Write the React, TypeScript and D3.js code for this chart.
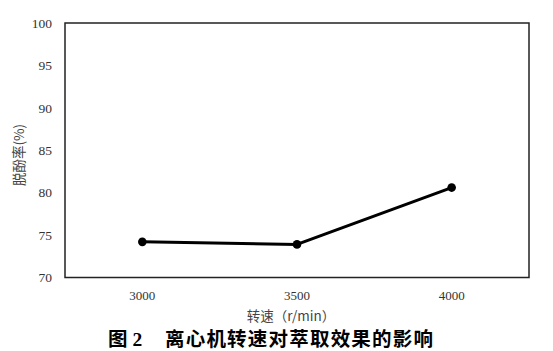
import React from "react";
import * as d3 from "d3";

// Centrifuge speed (r/min) vs. dephenolization rate (%)
const speeds = ["3000", "3500", "4000"];
const rates = [74.2, 73.9, 80.6];
const yTicks = [70, 75, 80, 85, 90, 95, 100];

const W = 553;
const H = 351;
const plot = { left: 65, top: 23, right: 529, bottom: 277.5 };

const serif = "'Liberation Serif', 'Times New Roman', serif";
const cjk = "'Noto Sans CJK SC', sans-serif";

export default function App() {
  const x = d3
    .scaleBand<string>()
    .domain(speeds)
    .range([plot.left, plot.right]);
  const y = d3.scaleLinear().domain([70, 100]).range([plot.bottom, plot.top]);

  const pts = speeds.map(
    (s, i) => [x(s)! + x.bandwidth() / 2, y(rates[i])] as [number, number]
  );
  const line = d3.line()(pts) ?? "";

  return (
    <svg
      width={W}
      height={H}
      style={{ position: "absolute", left: 0, top: 0, background: "#fff" }}
    >
      <rect x={0} y={0} width={W} height={H} fill="#fff" />
      <rect
        x={plot.left}
        y={plot.top}
        width={plot.right - plot.left}
        height={plot.bottom - plot.top}
        fill="none"
        stroke="#222"
        strokeWidth={1.5}
      />
      {yTicks.map((t) => (
        <text
          key={t}
          x={52}
          y={y(t)}
          dy="0.35em"
          textAnchor="end"
          style={{ fontFamily: serif, fontSize: 13.5 }}
          fill="#333"
        >
          {t}
        </text>
      ))}
      {speeds.map((s) => (
        <text
          key={s}
          x={x(s)! + x.bandwidth() / 2}
          y={295}
          dy="0.35em"
          textAnchor="middle"
          style={{ fontFamily: serif, fontSize: 13 }}
          fill="#333"
        >
          {s}
        </text>
      ))}
      <path
        d={line}
        fill="none"
        stroke="#000"
        strokeWidth={3}
        strokeLinejoin="round"
      />
      {pts.map((p, i) => (
        <circle key={i} cx={p[0]} cy={p[1]} r={4.3} fill="#000" />
      ))}
      <text
        transform={`translate(19,155) rotate(-90)`}
        textAnchor="middle"
        dy="0.35em"
        style={{ fontFamily: cjk, fontSize: 13.5 }}
        fill="#444"
      >
        脱酚率(%)
      </text>
      <text
        x={291}
        y={316}
        dy="0.35em"
        textAnchor="middle"
        style={{ fontFamily: cjk, fontSize: 13.5 }}
        fill="#444"
      >
        转速（r/min）
      </text>
      <text
        x={108}
        y={339}
        dy="0.35em"
        style={{ fontFamily: cjk, fontSize: 19.5, fontWeight: 700 }}
        fill="#000"
      >
        图
        <tspan style={{ fontFamily: serif, fontWeight: 700 }}> 2</tspan>
      </text>
      <text
        x={165}
        y={339}
        dy="0.35em"
        textLength={268}
        lengthAdjust="spacing"
        style={{ fontFamily: cjk, fontSize: 19.5, fontWeight: 700 }}
        fill="#000"
      >
        离心机转速对萃取效果的影响
      </text>
    </svg>
  );
}
